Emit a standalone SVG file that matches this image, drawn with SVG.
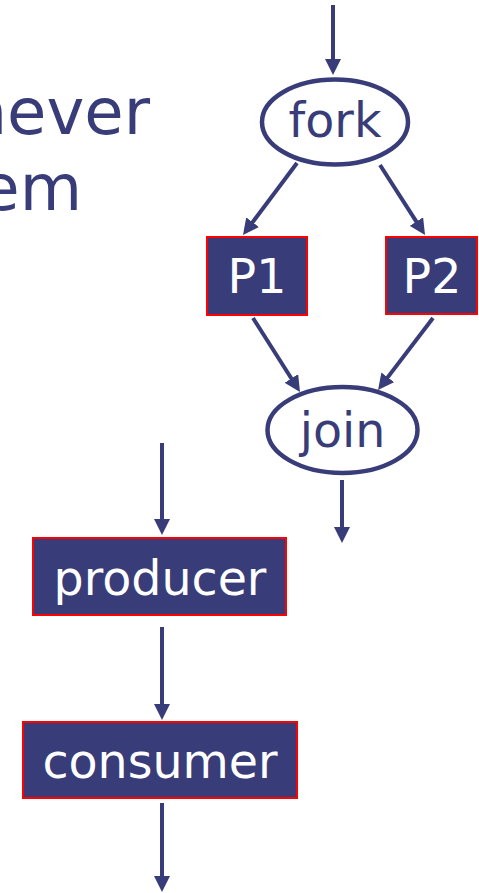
<svg xmlns="http://www.w3.org/2000/svg" width="479" height="893" viewBox="0 0 479 893">
<style>
.t{font-family:"DejaVu Sans","Verdana",sans-serif;font-size:47.5px;text-anchor:middle}
.dark{fill:#383c78}
.white{fill:#ffffff}
.big{font-family:"DejaVu Sans","Verdana",sans-serif;font-size:64px;fill:#383c78;text-anchor:end}
.ell{fill:#ffffff;stroke:#383c78;stroke-width:4.5}
.box{fill:#383c78;stroke:#ff0000;stroke-width:2}
.c{stroke:#383c78;stroke-width:4;fill:none;marker-end:url(#ah)}
</style>
<defs>
<marker id="ah" viewBox="0 0 16 16" markerWidth="16" markerHeight="16" refX="8" refY="8" orient="auto" markerUnits="userSpaceOnUse">
<path d="M0,0 L16,8 L0,16 z" fill="#383c78"/>
</marker>
</defs>
<text class="big" x="150" y="134">never</text>
<text class="big" x="82" y="210">em</text>
<g id="connectors">
<line class="c" x1="333" y1="5" x2="333" y2="67"/>
<line class="c" x1="297" y1="163" x2="247.8" y2="228.6"/>
<line class="c" x1="380" y1="165" x2="420.7" y2="228.3"/>
<line class="c" x1="253" y1="318" x2="295.7" y2="385.2"/>
<line class="c" x1="433" y1="318" x2="382.9" y2="383.6"/>
<line class="c" x1="342" y1="480" x2="342" y2="535"/>
<line class="c" x1="162" y1="443" x2="162" y2="527"/>
<line class="c" x1="162" y1="627" x2="162" y2="712"/>
<line class="c" x1="162" y1="803" x2="162" y2="884"/>
</g>
<g id="fork">
<ellipse class="ell" cx="335" cy="122" rx="73" ry="42.5"/>
<text class="t dark" x="335" y="137">fork</text>
</g>
<g id="p1">
<rect class="box" x="207" y="237" width="100" height="78"/>
<text class="t white" x="257" y="293">P1</text>
</g>
<g id="p2">
<rect class="box" x="386" y="237" width="91" height="77"/>
<text class="t white" x="432" y="293">P2</text>
</g>
<g id="join">
<ellipse class="ell" cx="342.5" cy="430" rx="75" ry="43"/>
<text class="t dark" x="342.5" y="447">join</text>
</g>
<g id="producer">
<rect class="box" x="33" y="538" width="253" height="77"/>
<text class="t white" x="160" y="595">producer</text>
</g>
<g id="consumer">
<rect class="box" x="23" y="722" width="274" height="76"/>
<text class="t white" x="160" y="778">consumer</text>
</g>
</svg>
